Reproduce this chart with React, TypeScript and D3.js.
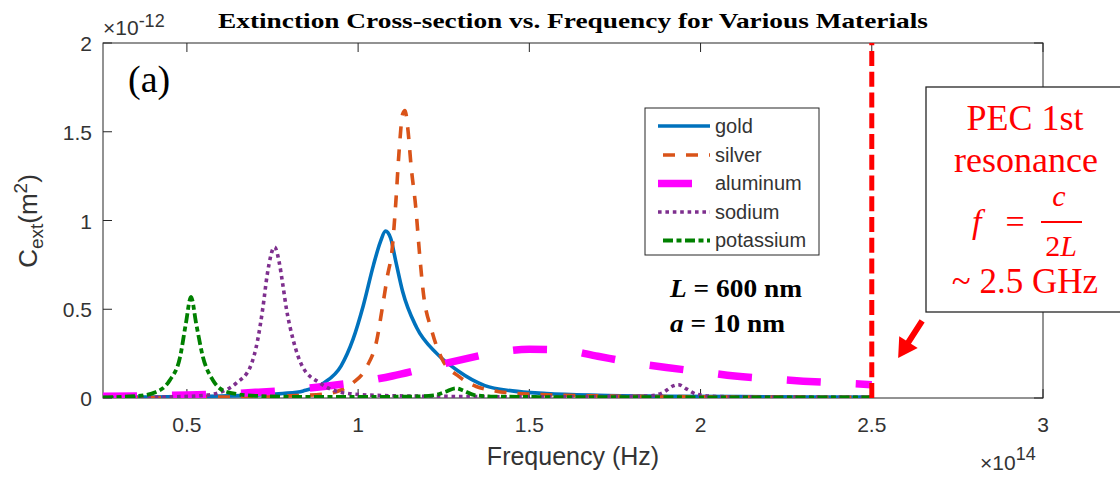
import React from 'react';
import * as d3 from 'd3';

// Frequency in units of 1e14 Hz, extinction cross-section in units of 1e-12 m^2
const goldF = [0.255, 0.4, 0.5, 0.6, 0.7, 0.78, 0.84, 0.9, 0.95, 0.985, 1.015, 1.045, 1.065, 1.08, 1.095, 1.11, 1.13, 1.17, 1.23, 1.29, 1.37, 1.45, 1.55, 1.7, 1.9, 2.2, 2.5];
const goldC = [0.004, 0.006, 0.008, 0.011, 0.016, 0.025, 0.04, 0.085, 0.18, 0.33, 0.52, 0.75, 0.88, 0.94, 0.9, 0.77, 0.6, 0.4, 0.25, 0.155, 0.07, 0.04, 0.025, 0.015, 0.01, 0.007, 0.005];

const silverF = [0.255, 0.5, 0.7, 0.8, 0.9, 0.95, 0.985, 1.025, 1.055, 1.07, 1.085, 1.1, 1.11, 1.12, 1.13, 1.137, 1.145, 1.155, 1.168, 1.18, 1.19, 1.215, 1.245, 1.295, 1.345, 1.4, 1.5, 1.7, 2.0, 2.5];
const silverC = [0.002, 0.004, 0.008, 0.012, 0.022, 0.045, 0.085, 0.175, 0.33, 0.5, 0.68, 0.85, 1.1, 1.4, 1.6, 1.62, 1.52, 1.3, 1.08, 0.8, 0.6, 0.38, 0.22, 0.12, 0.065, 0.04, 0.022, 0.012, 0.007, 0.004];

const aluminumF = [0.255, 0.4, 0.5, 0.6, 0.7, 0.8, 0.9, 1.0, 1.1, 1.2, 1.3, 1.4, 1.5, 1.6, 1.7, 1.8, 1.9, 2.0, 2.1, 2.2, 2.3, 2.4, 2.5];
const aluminumC = [0.01, 0.013, 0.017, 0.022, 0.032, 0.045, 0.065, 0.09, 0.124, 0.17, 0.215, 0.255, 0.275, 0.27, 0.235, 0.2, 0.172, 0.148, 0.124, 0.108, 0.095, 0.085, 0.075];

const sodiumF = [0.255, 0.45, 0.55, 0.59, 0.645, 0.685, 0.707, 0.722, 0.735, 0.756, 0.77, 0.78, 0.79, 0.81, 0.838, 0.888, 0.955, 1.05, 1.2, 1.5, 1.75, 1.85, 1.89, 1.92, 1.935, 1.96, 1.99, 2.05, 2.3, 2.5];
const sodiumC = [0.002, 0.006, 0.015, 0.028, 0.085, 0.175, 0.33, 0.51, 0.7, 0.85, 0.76, 0.64, 0.51, 0.33, 0.175, 0.085, 0.03, 0.015, 0.01, 0.007, 0.008, 0.012, 0.03, 0.068, 0.075, 0.05, 0.02, 0.008, 0.005, 0.004];

const potassiumF = [0.255, 0.35, 0.41, 0.45, 0.48, 0.497, 0.512, 0.527, 0.547, 0.576, 0.617, 0.7, 0.85, 1.0, 1.15, 1.22, 1.255, 1.285, 1.31, 1.34, 1.4, 1.6, 2.0, 2.5];
const potassiumC = [0.004, 0.01, 0.034, 0.1, 0.23, 0.42, 0.57, 0.42, 0.23, 0.1, 0.034, 0.012, 0.006, 0.006, 0.008, 0.015, 0.035, 0.055, 0.04, 0.016, 0.008, 0.005, 0.004, 0.003];

const materials = ['gold', 'silver', 'aluminum', 'sodium', 'potassium'];

const xTicks = [0.5, 1, 1.5, 2, 2.5, 3];
const xTickLabels = ['0.5', '1', '1.5', '2', '2.5', '3'];
const yTicks = [0, 0.5, 1, 1.5, 2];
const yTickLabels = ['0', '0.5', '1', '1.5', '2'];

const pecFrequency = 2.5;

type Style = { color: string; width: number; dash: string; legendStart: number; legendOffset: number };
const styles: Style[] = [
  { color: '#0072BD', width: 3.6, dash: 'none', legendStart: 658, legendOffset: 0 },
  { color: '#D95319', width: 3.6, dash: '12 11', legendStart: 658, legendOffset: 18 },
  { color: '#FF00FF', width: 7.5, dash: '34 35', legendStart: 658, legendOffset: 0 },
  { color: '#7E2F8E', width: 3.6, dash: '3.6 3.8', legendStart: 658, legendOffset: 0 },
  { color: '#008000', width: 3.8, dash: '10 3.5 5 3.5', legendStart: 663, legendOffset: 0 },
];

const AX = '#262626';
const SANS = '"Liberation Sans", Arial, Helvetica, sans-serif';
const SERIF = '"Liberation Serif", "Times New Roman", Times, serif';

export default function App() {
  const W = 1120;
  const H = 477;
  const left = 103, right = 1043, top = 43, bottom = 398;
  const x = d3.scaleLinear().domain([0.255, 3]).range([left, right]);
  const y = d3.scaleLinear().domain([0, 2]).range([bottom, top]);
  const line = d3
    .line<[number, number]>()
    .x((d) => x(d[0]))
    .y((d) => y(d[1]))
    .curve(d3.curveMonotoneX);

  const series: [number, number][][] = [
    d3.zip(goldF, goldC) as [number, number][],
    d3.zip(silverF, silverC) as [number, number][],
    d3.zip(aluminumF, aluminumC) as [number, number][],
    d3.zip(sodiumF, sodiumC) as [number, number][],
    d3.zip(potassiumF, potassiumC) as [number, number][],
  ];

  const tickLen = 9;

  // Arrow pointing at the PEC resonance line
  const tail: [number, number] = [x(2.647), y(0.434)];
  const tip: [number, number] = [x(2.577), y(0.225)];
  const dx = tip[0] - tail[0];
  const dy = tip[1] - tail[1];
  const len = Math.hypot(dx, dy);
  const ux = dx / len, uy = dy / len;
  const px = -uy, py = ux;
  const headLen = 19, headHalf = 11, shaftHalf = 3;
  const bx = tip[0] - ux * headLen, by = tip[1] - uy * headLen;
  const arrowPts = [
    [tail[0] + px * shaftHalf, tail[1] + py * shaftHalf],
    [bx + px * shaftHalf, by + py * shaftHalf],
    [bx + px * headHalf, by + py * headHalf],
    tip,
    [bx - px * headHalf, by - py * headHalf],
    [bx - px * shaftHalf, by - py * shaftHalf],
    [tail[0] - px * shaftHalf, tail[1] - py * shaftHalf],
  ]
    .map((p) => p.join(','))
    .join(' ');

  const legendRows = [126, 155, 183.5, 212, 240.5];

  return (
    <svg
      width={W}
      height={H}
      style={{ position: 'absolute', left: 0, top: 0, background: '#fff' }}
    >
      <defs>
        <clipPath id="plotArea">
          <rect x={left} y={top} width={right - left} height={bottom - top} />
        </clipPath>
      </defs>
      <rect width={W} height={H} fill="#fff" />

      {/* axes box */}
      <rect x={left} y={top} width={right - left} height={bottom - top} fill="none" stroke={AX} strokeWidth={1} />
      {xTicks.map((t) => (
        <g key={'xt' + t}>
          <line x1={x(t)} x2={x(t)} y1={bottom} y2={bottom - tickLen} stroke={AX} />
          <line x1={x(t)} x2={x(t)} y1={top} y2={top + tickLen} stroke={AX} />
        </g>
      ))}
      {yTicks.map((t) => (
        <g key={'yt' + t}>
          <line x1={left} x2={left + tickLen} y1={y(t)} y2={y(t)} stroke={AX} />
          <line x1={right} x2={right - tickLen} y1={y(t)} y2={y(t)} stroke={AX} />
        </g>
      ))}

      {/* tick labels */}
      {xTicks.map((t, i) => (
        <text key={'xl' + t} x={x(t)} y={432} textAnchor="middle" fontFamily={SANS} fontSize={21} fill="#333">
          {xTickLabels[i]}
        </text>
      ))}
      {yTicks.map((t, i) => (
        <text key={'yl' + t} x={92} y={y(t) + 8} textAnchor="end" fontFamily={SANS} fontSize={21} fill="#333">
          {yTickLabels[i]}
        </text>
      ))}

      {/* exponent labels */}
      <text x={103} y={35} fontFamily={SANS} fontSize={21} fill="#333">
        ×10
        <tspan dy={-8} fontSize={18}>-12</tspan>
      </text>
      <text x={980} y={470} fontFamily={SANS} fontSize={21} fill="#333">
        ×10
        <tspan dy={-10} fontSize={18}>14</tspan>
      </text>

      {/* axis labels */}
      <text x={573} y={465} textAnchor="middle" fontFamily={SANS} fontSize={25} fill="#333">
        Frequency (Hz)
      </text>
      <text transform="translate(37,221) rotate(-90)" textAnchor="middle" fontFamily={SANS} fontSize={26} fill="#333">
        C
        <tspan dy={6} fontSize={19}>ext</tspan>
        <tspan dy={-6}>(m</tspan>
        <tspan dy={-10} fontSize={19}>2</tspan>
        <tspan dy={10}>)</tspan>
      </text>

      {/* title */}
      <text
        x={218}
        y={28}
        fontFamily={SERIF}
        fontWeight="bold"
        fontSize={21}
        fill="#000"
        textLength={710}
        lengthAdjust="spacingAndGlyphs"
      >
        Extinction Cross-section vs. Frequency for Various Materials
      </text>

      {/* data */}
      <g clipPath="url(#plotArea)">
        {series.map((s, i) => (
          <path
            key={materials[i]}
            d={line(s) ?? ''}
            fill="none"
            stroke={styles[i].color}
            strokeWidth={styles[i].width}
            strokeDasharray={styles[i].dash}
            strokeLinejoin="round"
          />
        ))}
        {/* PEC first resonance */}
        <line
          x1={x(pecFrequency)}
          x2={x(pecFrequency)}
          y1={y(0)}
          y2={y(2)}
          stroke="#FF0000"
          strokeWidth={5}
          strokeDasharray="15 5.75"
        />
      </g>

      <text x={128} y={92} fontFamily={SERIF} fontSize={38} fill="#000">
        (a)
      </text>

      {/* legend */}
      <rect x={645} y={108} width={174} height={147} fill="#fff" stroke={AX} strokeWidth={1} />
      {materials.map((m, i) => (
        <g key={'lg' + m}>
          <line
            x1={styles[i].legendStart}
            x2={710}
            y1={legendRows[i]}
            y2={legendRows[i]}
            stroke={styles[i].color}
            strokeWidth={styles[i].width}
            strokeDasharray={styles[i].dash}
            strokeDashoffset={styles[i].legendOffset}
          />
          <text x={715} y={legendRows[i] + 6.5} fontFamily={SANS} fontSize={20} fill="#333">
            {m}
          </text>
        </g>
      ))}

      {/* parameters */}
      <text x={670} y={297} fontFamily={SERIF} fontWeight="bold" fontSize={25} fill="#000" textLength={132} lengthAdjust="spacingAndGlyphs">
        <tspan fontStyle="italic">L</tspan> = 600 nm
      </text>
      <text x={670} y={332} fontFamily={SERIF} fontWeight="bold" fontSize={25} fill="#000" textLength={115} lengthAdjust="spacingAndGlyphs">
        <tspan fontStyle="italic">a</tspan> = 10 nm
      </text>

      {/* PEC annotation */}
      <rect x={926} y={87} width={220} height={225} fill="#fff" stroke={AX} strokeWidth={1.3} />
      <g fontFamily={SERIF} fill="#FF0000">
        <text x={1025} y={130} textAnchor="middle" fontSize={36}>PEC 1st</text>
        <text x={1026} y={172} textAnchor="middle" fontSize={36}>resonance</text>
        <text x={972} y={233} fontStyle="italic" fontSize={34}>f</text>
        <text x={1015} y={233} textAnchor="middle" fontSize={34}>=</text>
        <text x={1059} y={206} textAnchor="middle" fontStyle="italic" fontSize={30}>c</text>
        <line x1={1041} x2={1082} y1={222} y2={222} stroke="#FF0000" strokeWidth={2} />
        <text x={1061} y={256} textAnchor="middle" fontSize={30}>
          2<tspan fontStyle="italic">L</tspan>
        </text>
        <text x={1025} y={293} textAnchor="middle" fontSize={35}>~ 2.5 GHz</text>
      </g>
      <polygon points={arrowPts} fill="#FF0000" />
    </svg>
  );
}
